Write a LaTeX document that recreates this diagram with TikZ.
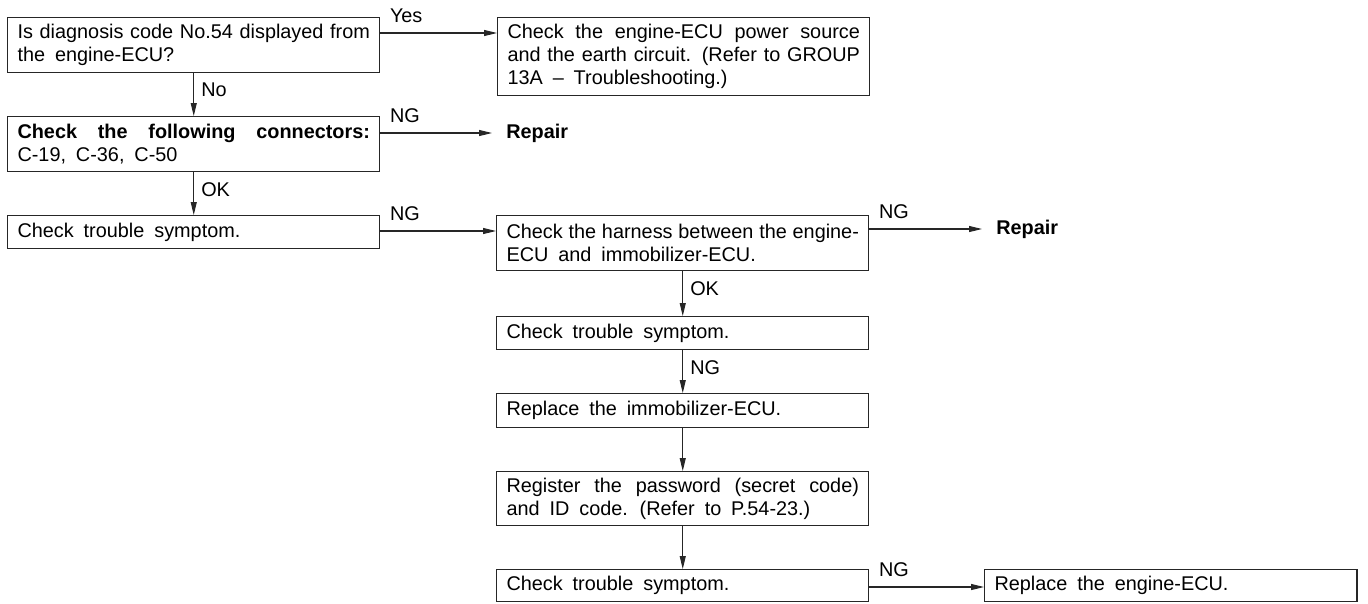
\documentclass[tikz,border=0pt]{standalone}
\usepackage{fontspec}
\setmainfont{Liberation Sans}
\usetikzlibrary{arrows.meta}

\newcommand{\flowfont}{\fontsize{11.3pt}{13.1pt}\selectfont\spaceskip=0.5em plus 0.3em minus 0.25em\relax}

\begin{document}
\begin{tikzpicture}[x=0.02cm, y=-0.02cm,
  box/.style={draw=black!85, line width=0.6pt, anchor=north west, minimum width=7.45cm, text width=7.05cm, inner xsep=0.2cm, inner ysep=2pt, align=justify, font=\flowfont},
  arr/.style={draw=black!85, line width=0.6pt, -{Triangle[length=0.26cm, width=0.12cm]}},
  lbl/.style={inner sep=0pt, font=\flowfont},
  hlbl/.style={lbl, pos=0, anchor=base west, xshift=0.18cm, yshift=0.22cm},
  vlbl/.style={lbl, pos=0.4, anchor=west, xshift=0.14cm},
  rep/.style={anchor=west, inner xsep=0.28cm, inner ysep=0pt, font=\flowfont\bfseries}]
\useasboundingbox (0,0) rectangle (1368,603);

% left column
\node[box, minimum height=1.1cm] (q54) at (7,17) {Is diagnosis code No.54 displayed from\linebreak the engine-ECU?};
\node[box, minimum height=1.1cm] (conn) at (7,116) {\textbf{Check the following connectors:}\linebreak C-19, C-36, C-50};
\node[box, minimum height=0.66cm] (sym1) at (7,215) {Check trouble symptom.};

% middle column
\node[box, minimum height=1.56cm] (power) at (497,17) {Check the engine-ECU power source\linebreak and the earth circuit. (Refer to GROUP\linebreak 13A -- Troubleshooting.)};
\node[rep] (rep1) at (492,133) {Repair};
\node[box, minimum height=1.1cm] (harn) at (496,215) {Check the harness between the engine-\linebreak ECU and immobilizer-ECU.};
\node[box, minimum height=0.66cm] (sym2) at (496,316) {Check trouble symptom.};
\node[box, minimum height=0.68cm] (immo) at (496,393) {Replace the immobilizer-ECU.};
\node[box, minimum height=1.08cm] (pass) at (496,471) {\parfillskip=0pt Register the password (secret code)\linebreak and ID code. (Refer to P.54-23.)};
\node[box, minimum height=0.64cm] (sym3) at (496,569) {Check trouble symptom.};

% right column
\node[rep] (rep2) at (982,229) {Repair};
\node[box, minimum height=0.64cm] (engecu) at (984,569) {Replace the engine-ECU.};

\draw[arr] ([yshift=-0.32cm]q54.north east) -- node[hlbl]{Yes} ([yshift=-0.32cm]power.north west);
\draw[arr] (conn.east |- rep1) -- node[hlbl]{NG} (rep1);
\draw[arr] ([yshift=-0.32cm]sym1.north east) -- node[hlbl]{NG} ([yshift=-0.32cm]harn.north west);
\draw[arr] (harn.east |- rep2) -- node[hlbl]{NG} (rep2);
\draw[arr] ([yshift=-0.36cm]sym3.north east) -- node[hlbl]{NG} ([yshift=-0.36cm]engecu.north west);

\draw[arr] (q54.south) -- node[vlbl]{No} (conn.north);
\draw[arr] (conn.south) -- node[vlbl]{OK} (sym1.north);
\draw[arr] (harn.south) -- node[vlbl]{OK} (sym2.north);
\draw[arr] (sym2.south) -- node[vlbl]{NG} (immo.north);
\draw[arr] (immo.south) -- (pass.north);
\draw[arr] (pass.south) -- (sym3.north);
\end{tikzpicture}
\end{document}
